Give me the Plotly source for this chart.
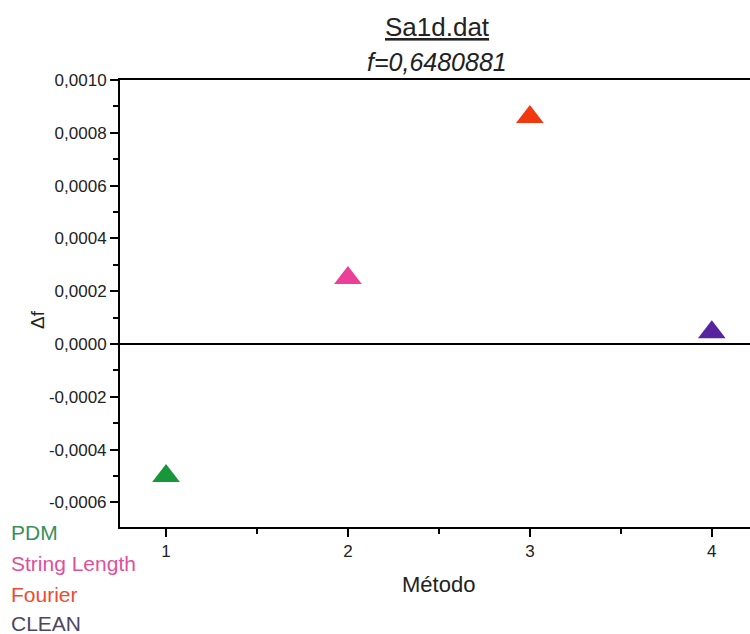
import plotly.graph_objects as go

methods = ["PDM", "String Length", "Fourier", "CLEAN"]
x_vals = [1, 2, 3, 4]
delta_f = [-0.00050, 0.00025, 0.00086, 0.000045]
colors = ["#17963a", "#ec3f98", "#f2380f", "#55249e"]
label_colors = ["#3a8f5c", "#e0509a", "#ef4a30", "#4e4560"]
y_tickvals = [-0.0006, -0.0004, -0.0002, 0.0, 0.0002, 0.0004, 0.0006, 0.0008, 0.0010]
y_ticktext = ["-0,0006", "-0,0004", "-0,0002", "0,0000", "0,0002", "0,0004", "0,0006", "0,0008", "0,0010"]
x_tickvals = [1, 2, 3, 4]
x_ticktext = ["1", "2", "3", "4"]

FONT = "Liberation Sans, Arial, sans-serif"

L, R, T, B = 120, 750, 80, 527
def px(xp):
    return (xp - L) / (R - L)
def py(yp):
    return (B - yp) / (B - T)

fig = go.Figure()
fig.add_trace(go.Scatter(
    x=x_vals, y=delta_f, mode="markers",
    marker=dict(symbol="triangle-up", size=24, color=colors, line=dict(width=0)),
    showlegend=False, hoverinfo="skip",
))

ann = [
    dict(text="<u>Sa1d.dat</u>", x=437, y=27, size=26, angle=0),
    dict(text="<i>f=0,6480881</i>", x=437, y=62, size=25, angle=0),
    dict(text="Δf", x=37, y=320, size=19, angle=-90),
    dict(text="Método", x=438, y=584, size=22, angle=0),
]
for a in ann:
    fig.add_annotation(text=a["text"], x=px(a["x"]), y=py(a["y"]),
                       xref="paper", yref="paper", showarrow=False,
                       xanchor="center", yanchor="middle",
                       font=dict(family=FONT, color="#222", size=a["size"]),
                       textangle=a["angle"])

legend_y = [532, 563, 594, 623]
for name, c, yy in zip(methods, label_colors, legend_y):
    fig.add_annotation(text=name, x=px(9), y=py(yy), xref="paper", yref="paper",
                       showarrow=False, xanchor="left", yanchor="middle",
                       font=dict(family=FONT, color=c, size=21))

fig.update_layout(
    width=750, height=634,
    margin=dict(l=L, r=0, t=T, b=634 - B),
    paper_bgcolor="white", plot_bgcolor="white",
    font=dict(family=FONT, color="#222", size=17),
    xaxis=dict(range=[0.747, 4.21], tickvals=x_tickvals, ticktext=x_ticktext,
               showgrid=False, zeroline=False, showline=True, linecolor="black",
               linewidth=2, mirror=True, ticks="outside", ticklen=8, tickwidth=2,
               tickcolor="black", tickfont=dict(size=17),
               minor=dict(tickvals=[1.5, 2.5, 3.5], ticks="outside", ticklen=5,
                          tickwidth=2, tickcolor="black")),
    yaxis=dict(range=[-0.000693, 0.0010], tickvals=y_tickvals, ticktext=y_ticktext,
               showgrid=False, zeroline=True, zerolinecolor="black", zerolinewidth=2,
               showline=True, linecolor="black", linewidth=2,
               ticks="outside", ticklen=8, tickwidth=2, tickcolor="black",
               tickfont=dict(size=17),
               minor=dict(dtick=0.0001, ticks="outside", ticklen=5, tickwidth=2,
                          tickcolor="black")),
)

fig.write_html("out.html")
